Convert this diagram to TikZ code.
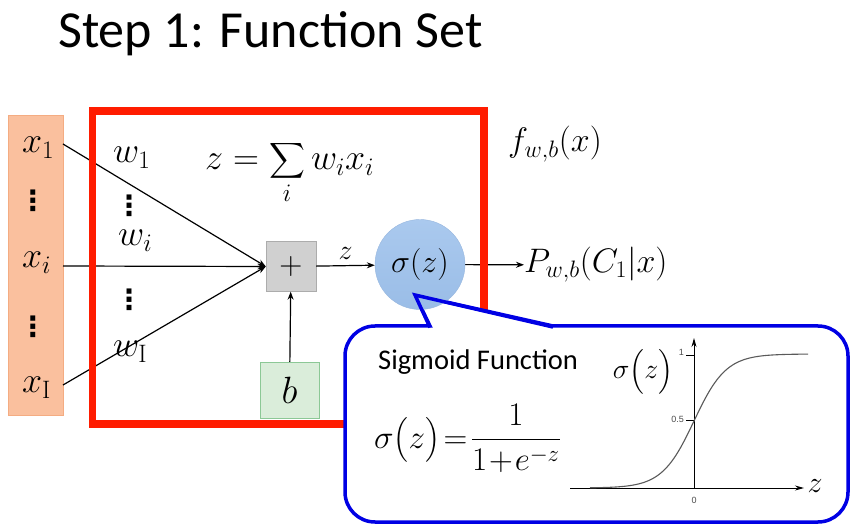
\RequirePackage{fix-cm}
\documentclass[tikz,border=0pt]{standalone}
\usepackage{amsmath}
\usepackage{fontspec}
\newfontfamily\calfont{Carlito}
\newfontfamily\arialfont{Liberation Sans}
\newfontfamily\djvfont{DejaVu Sans}
\usetikzlibrary{arrows.meta}
\definecolor{orfill}{RGB}{250,192,158}
\definecolor{ordraw}{RGB}{244,172,130}
\definecolor{plfill}{RGB}{208,208,208}
\definecolor{pldraw}{RGB}{172,172,172}
\definecolor{bfill}{RGB}{218,237,218}
\definecolor{bdraw}{RGB}{140,200,150}
\definecolor{sigtop}{RGB}{170,201,238}
\definecolor{sigbot}{RGB}{154,189,231}
\definecolor{sigdraw}{RGB}{150,182,222}
\definecolor{framered}{RGB}{255,28,0}
\definecolor{cblue}{RGB}{0,0,228}
\definecolor{curvegray}{RGB}{90,90,90}
\pgfdeclarelayer{frameL}
\pgfdeclarelayer{calloutL}
\pgfdeclarelayer{topL}
\pgfsetlayers{main,frameL,calloutL,topL}
\begin{document}
\begin{tikzpicture}[x=1pt,y=-1pt,
  lab/.style={inner sep=0pt, font=\fontsize{36}{40}\selectfont},
  midlab/.style={inner sep=0pt, font=\fontsize{34}{38}\selectfont},
  dotlab/.style={inner sep=0pt, font=\djvfont\bfseries\fontsize{28}{30}\selectfont},
  tiny/.style={inner sep=0pt, font=\arialfont\fontsize{9}{10}\selectfont, text=black!70},
  arr/.style={-{Stealth[length=8pt,width=6pt]}, line width=1.2pt},
  axarr/.style={-{Stealth[length=9pt,width=5pt]}, line width=1pt},
  cline/.style={draw=cblue, line width=3.5pt, line join=miter}]
\useasboundingbox (0,0) rectangle (854,526);

% title
\node[anchor=base west, inner sep=0pt, font=\calfont\fontsize{52}{60}\selectfont] (title) at (58,48) {Step 1: Function Set};

% input column
\node[draw=ordraw, fill=orfill, line width=0.8pt, minimum width=55, minimum height=300, inner sep=0pt] (xcol) at (35.5,265) {};
\node[anchor=base west, lab] (x1) at (22,153) {$x_1$};
\node[dotlab] (d1) at (33,201) {⋮};
\node[anchor=base west, lab] (xi) at (22,268) {$x_i$};
\node[dotlab] (d2) at (33,327) {⋮};
\node[anchor=base west, lab] (xI) at (22,393) {$x_{\mathrm{I}}$};

% weights
\node[anchor=base west, lab] (w1) at (113,163) {$w_1$};
\node[dotlab] (d3) at (129,206) {⋮};
\node[anchor=base west, lab] (wi) at (118,246) {$w_i$};
\node[dotlab] (d4) at (129,300) {⋮};
\node[anchor=base west, lab] (wI) at (113,357) {$w_{\mathrm{I}}$};

% sum formula
\node[anchor=base west, lab] (sumf) at (205,170) {$\displaystyle z=\sum_i w_ix_i$};

% plus and bias
\node[draw=pldraw, fill=plfill, minimum size=50, inner sep=0pt, font=\fontsize{32}{32}\selectfont] (plus) at (291,266.5) {$+$};
\node[draw=bdraw, fill=bfill, minimum width=59, minimum height=56, inner sep=0pt, font=\fontsize{38}{40}\selectfont] (bbox) at (289.5,390) {$b$};

% sigma circle (top layer)
\begin{pgfonlayer}{topL}
\node[circle, draw=sigdraw, top color=sigtop, bottom color=sigbot, minimum size=90, inner sep=0pt, font=\fontsize{32}{34}\selectfont] (sig) at (420,264.5) {$\sigma(z)$};
\end{pgfonlayer}

% outputs
\node[anchor=west, midlab] (P) at (524,265) {$P_{w,b}(C_1|x)$};
\node[anchor=base west, midlab] (f) at (508,152) {$f_{w,b}(x)$};

% connectors
\coordinate (s1) at (63,144);
\coordinate (si) at (63,266);
\coordinate (sI) at (63,385);
\draw[arr] (s1) -- (plus.west);
\draw[arr] (si) -- (plus.west);
\draw[arr] (sI) -- (plus.west);
\draw[arr] (plus) -- node[above=6pt, inner sep=0pt, font=\fontsize{28}{30}\selectfont] (zl) {$z$} (sig);
\draw[arr] (sig) -- (P);
\draw[arr] (bbox) -- (plus);

% red frame
\begin{pgfonlayer}{frameL}
\node[draw=framered, line width=7.5pt, minimum width=391.5, minimum height=313, inner sep=0pt] (frame) at (288.25,267.5) {};
\end{pgfonlayer}

% callout
\begin{pgfonlayer}{calloutL}
\path[fill=white, cline] (430,326) -- (415,295) -- (553,326) -- (818,326)
  arc[start angle=-90, end angle=0, radius=30] -- (848,492)
  arc[start angle=0, end angle=90, radius=30] -- (375,522)
  arc[start angle=90, end angle=180, radius=30] -- (345,356)
  arc[start angle=180, end angle=270, radius=30] -- cycle;
\end{pgfonlayer}

\begin{pgfonlayer}{topL}
\draw[cline] (430,327.5) -- (415,295) -- (553,327);
\node[anchor=base west, inner sep=0pt, font=\calfont\fontsize{28.5}{30}\selectfont] (sigtitle) at (378,370) {Sigmoid Function};
\node[anchor=base west, inner sep=0pt, font=\fontsize{33}{36}\selectfont] (sigf) at (374,448) {$\sigma\bigl(z\bigr)\!=\!\dfrac{1}{1\!+\!e^{-z}}$};
% graph
\coordinate (origin) at (694,488);
\coordinate (xend) at (804,488);
\coordinate (xstart) at (570,488);
\coordinate (yend) at (694,338);
\draw[axarr] (xstart) -- (xend);
\draw[axarr] (origin) -- (yend);
\draw[line width=0.6pt] (686,420) -- (694,420);
\draw[line width=0.6pt] (686,355) -- (694,355);
\node[tiny, anchor=east] (l05) at (684,419) {0.5};
\node[tiny, anchor=east] (l1) at (684,352) {1};
\node[tiny] (l0) at (694,500) {0};
\node[font=\fontsize{30}{32}\selectfont, inner sep=0pt] (zax) at (815,486) {$z$};
\node[font=\fontsize{28}{30}\selectfont, inner sep=0pt] (sigax) at (643,372) {$\sigma\bigl(z\bigr)$};
\draw[curvegray, line width=1.1pt] plot[domain=-104:114, samples=90, smooth] ({694+\x}, {488-134/(1+exp(-\x/16))});
\end{pgfonlayer}
\end{tikzpicture}
\end{document}
